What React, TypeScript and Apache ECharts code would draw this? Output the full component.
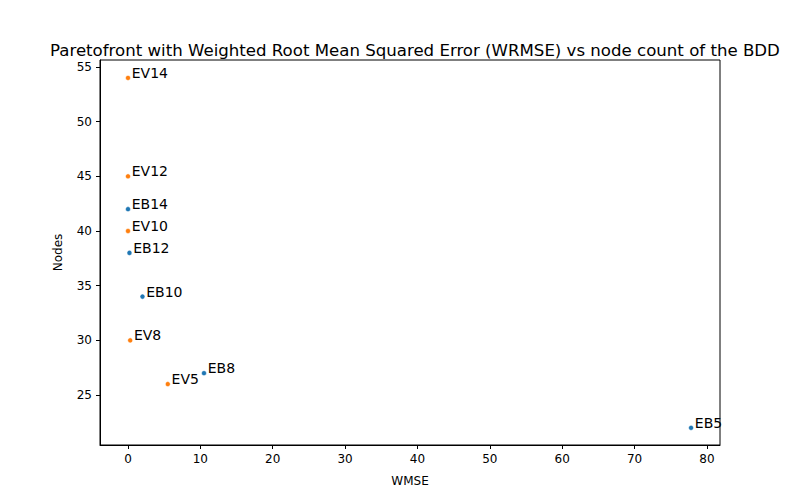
import * as echarts from "echarts";
import { useEffect, useRef } from "react";

const ebNames = ["EB14", "EB12", "EB10", "EB8", "EB5"];
const ebX = [0, 0.2, 2, 10.5, 77.8];
const ebY = [42, 38, 34, 27, 22];
const evNames = ["EV14", "EV12", "EV10", "EV8", "EV5"];
const evX = [0, 0, 0, 0.3, 5.5];
const evY = [54, 45, 40, 30, 26];
const xTicks = [0, 10, 20, 30, 40, 50, 60, 70, 80];
const yTicks = [25, 30, 35, 40, 45, 50, 55];

const font = "DejaVu Sans";

function series(name: string, names: string[], xs: number[], ys: number[], color: string) {
  return {
    name,
    type: "scatter",
    symbolSize: 5,
    itemStyle: { color, opacity: 1, borderColor: "#fff", borderWidth: 0.5 },
    label: {
      show: true,
      position: "right",
      distance: 1,
      offset: [0, -5],
      formatter: (p: any) => p.value[2],
      color: "#000",
      opacity: 1,
      textBorderWidth: 0,
      fontSize: 14,
      fontFamily: font,
    },
    data: names.map((n, i) => [xs[i], ys[i], n]),
  };
}

export default function App() {
  const ref = useRef<HTMLDivElement>(null);

  useEffect(() => {
    const chart = echarts.init(ref.current, null, { renderer: "svg" });
    const axisCommon = {
      axisLine: { show: true, onZero: false, lineStyle: { color: "#000" } },
      axisTick: { show: true, length: 4, lineStyle: { color: "#000" } },
      splitLine: { show: false },
      nameTextStyle: { color: "#000", fontSize: 12, fontFamily: font },
    };
    chart.setOption({
      animation: false,
      title: {
        text: "Paretofront with Weighted Root Mean Squared Error (WRMSE) vs node count of the BDD",
        left: 45,
        top: 37,
        textStyle: { color: "#000", fontSize: 16.6, fontWeight: "normal", fontFamily: font },
      },
      grid: { left: 100, right: 80, top: 60, bottom: 55, show: true, borderColor: "#000", borderWidth: 1 },
      xAxis: {
        type: "value",
        min: -3.87,
        max: 81.8,
        name: "WMSE",
        nameLocation: "middle",
        nameGap: 30,
        ...axisCommon,
        axisTick: { ...axisCommon.axisTick, customValues: xTicks },
        axisLabel: { customValues: xTicks, color: "#000", fontSize: 12, fontFamily: font },
      },
      yAxis: {
        type: "value",
        min: 20.43,
        max: 55.64,
        name: "Nodes",
        nameLocation: "middle",
        nameGap: 36,
        ...axisCommon,
        axisTick: { ...axisCommon.axisTick, customValues: yTicks },
        axisLabel: { customValues: yTicks, color: "#000", fontSize: 12, fontFamily: font },
      },
      series: [
        series("EB", ebNames, ebX, ebY, "#1f77b4"),
        series("EV", evNames, evX, evY, "#ff7f0e"),
      ],
    });
    return () => chart.dispose();
  }, []);

  return <div ref={ref} style={{ width: 800, height: 500, margin: -8 }} />;
}
